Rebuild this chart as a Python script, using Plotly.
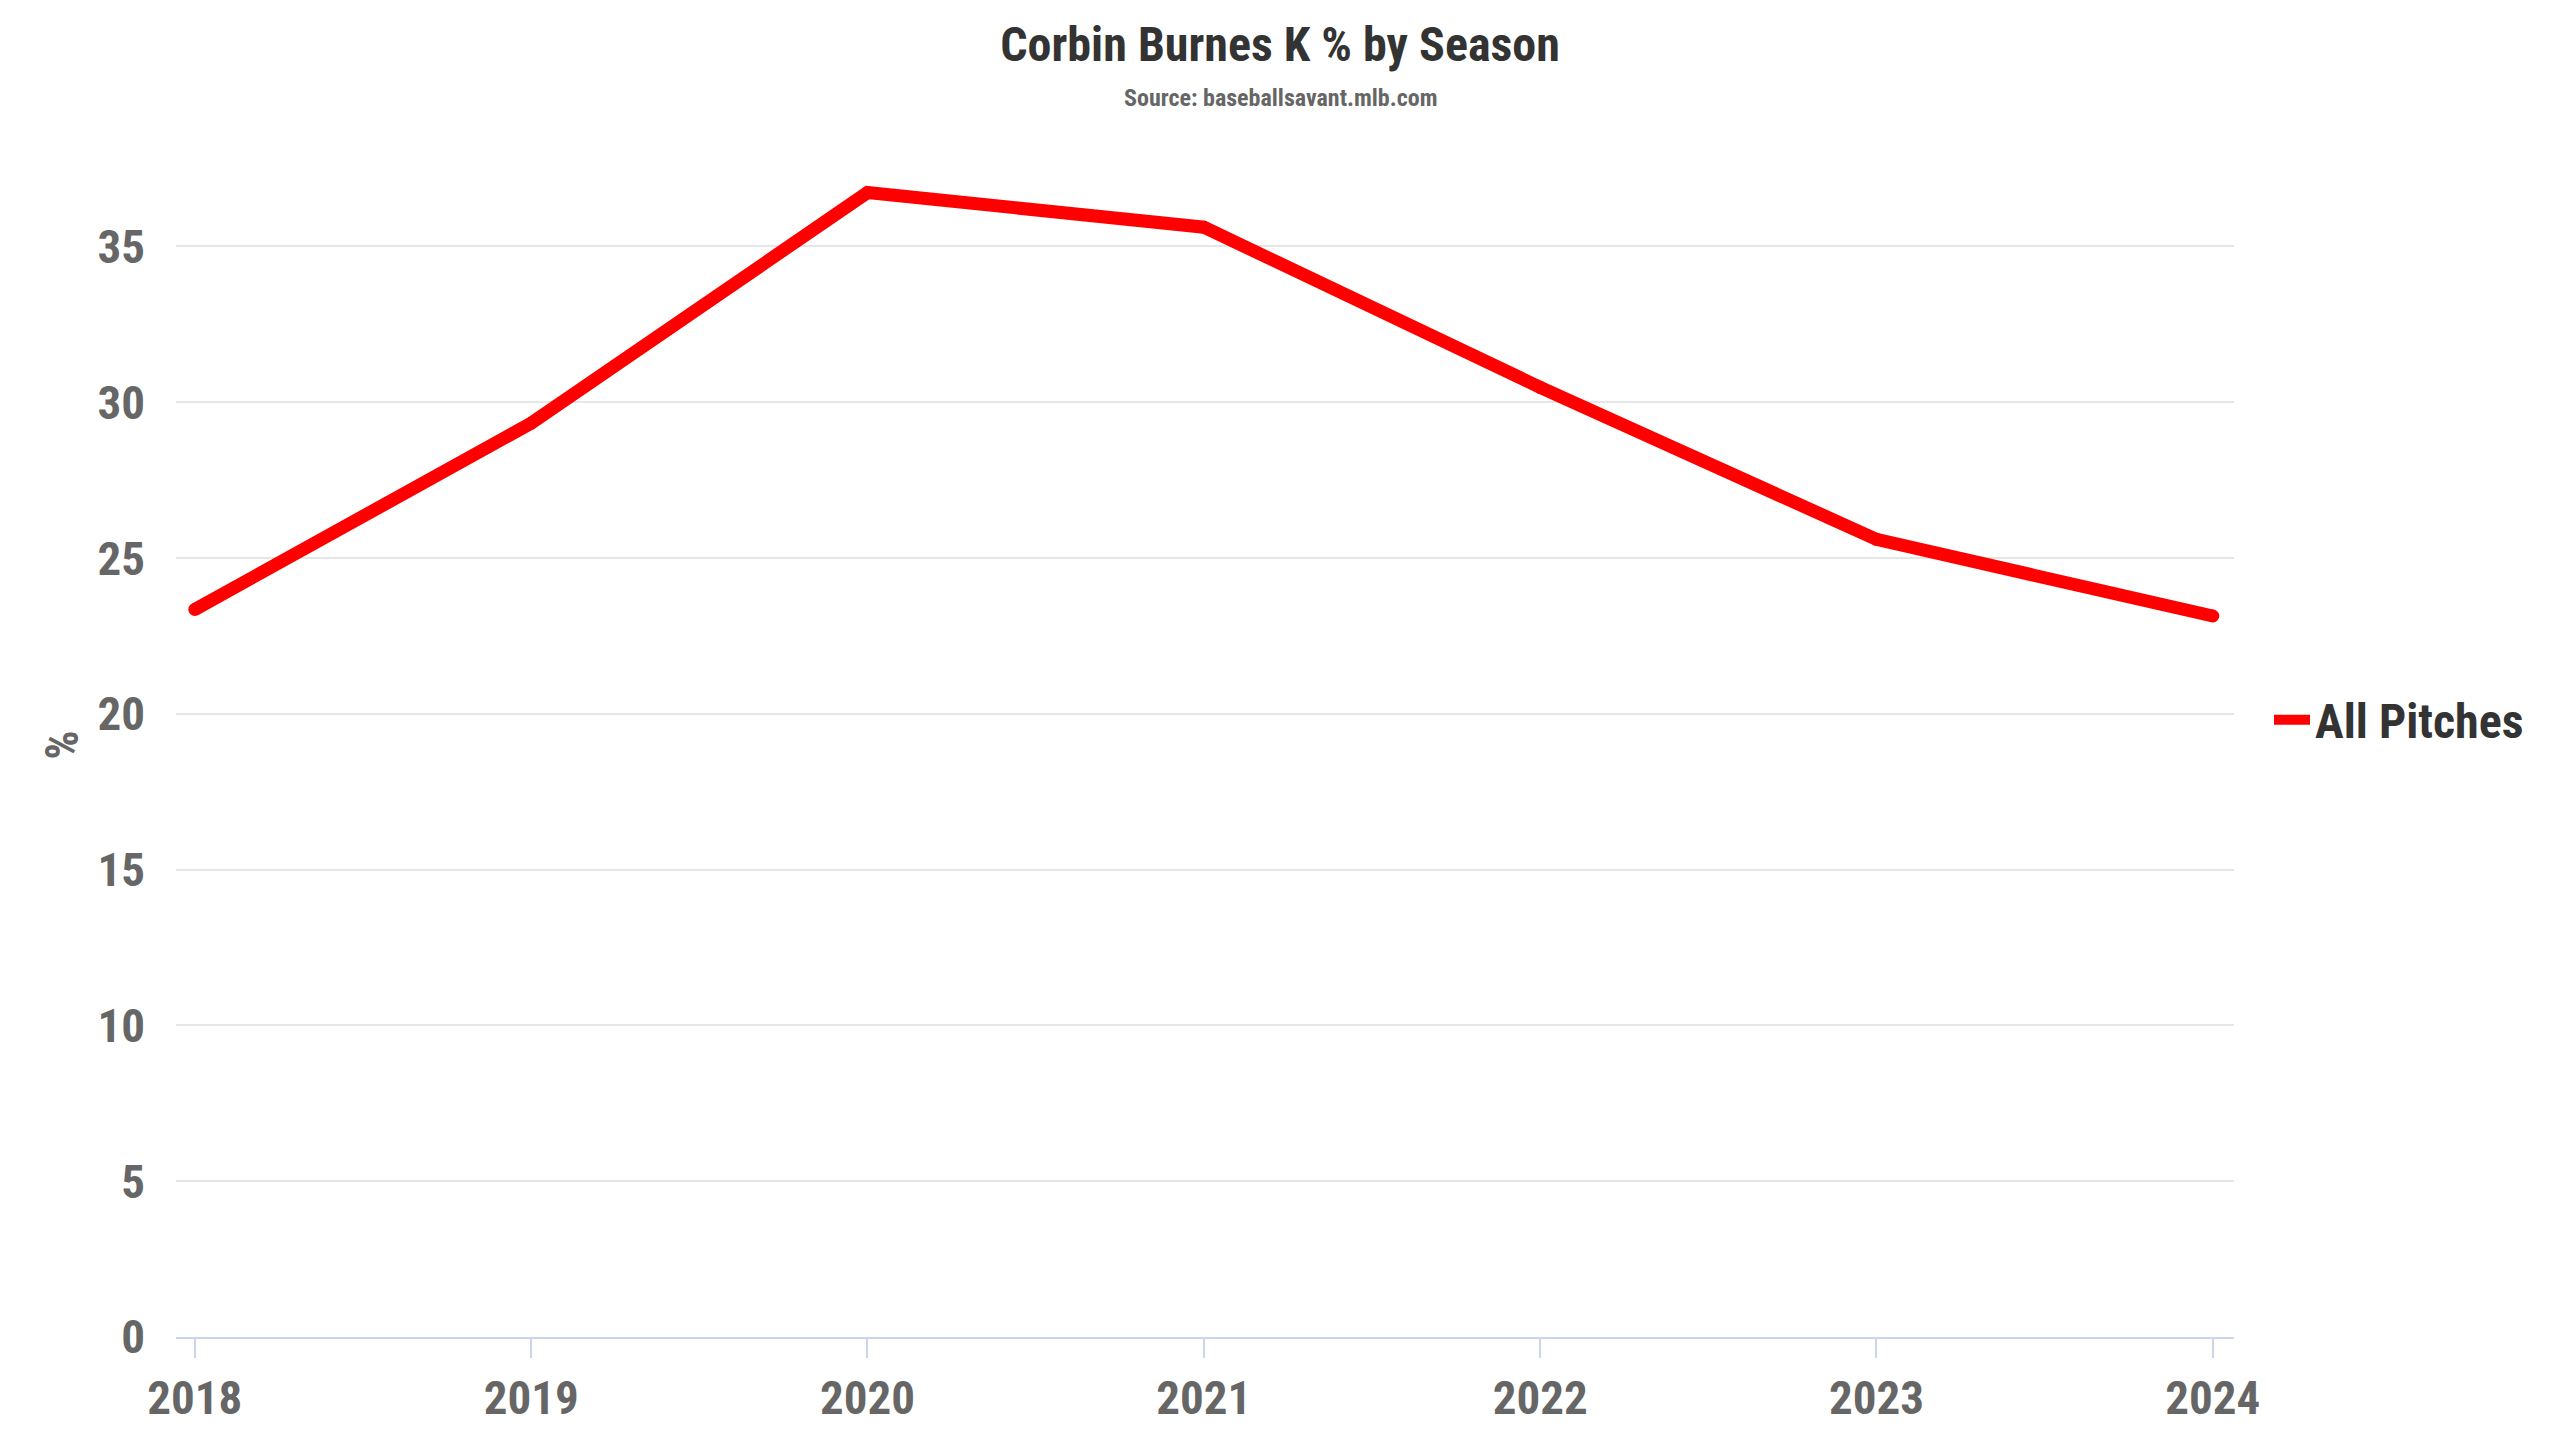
import plotly.graph_objects as go

seasons = [2018, 2019, 2020, 2021, 2022, 2023, 2024]
k_pct = [23.35, 29.33, 36.73, 35.62, 30.48, 25.6, 23.14]
series_name = "All Pitches"
title_text = "Corbin Burnes K % by Season"
subtitle_text = "Source: baseballsavant.mlb.com"
y_ticks = [0, 5, 10, 15, 20, 25, 30, 35]

FONT = "Roboto Condensed, Liberation Sans Narrow, Roboto, sans-serif"

W, H = 2560, 1440
ML = 176
MR = W - 2234
MB = H - 1336.7
MT = 153
PH = H - MT - MB
LINE_W = 13

fig = go.Figure()
fig.add_trace(go.Scatter(
    x=seasons, y=k_pct, mode="lines", name=f"<b>{series_name}</b>",
    line=dict(color="#ff0000", width=LINE_W),
))
# round caps / joins
fig.add_trace(go.Scatter(
    x=seasons, y=k_pct, mode="markers", showlegend=False, hoverinfo="skip",
    marker=dict(color="#ff0000", size=LINE_W, line=dict(width=0)),
))

fig.update_layout(
    width=W, height=H,
    paper_bgcolor="white", plot_bgcolor="white",
    margin=dict(l=ML, r=MR, t=MT, b=MB),
    font=dict(family=FONT, color="#666666"),
    title=dict(
        text=f"<b>{title_text}</b>",
        x=0.5, xanchor="center", xref="container", yref="container",
        y=1 - 44/H, yanchor="middle",
        font=dict(size=48, color="#333333", family=FONT),
    ),
    annotations=[dict(
        text=f"<b>{subtitle_text}</b>", xref="paper", yref="paper",
        x=(1280 - ML)/(W - ML - MR), y=(H - MB - 98)/PH,
        xanchor="center", yanchor="middle",
        showarrow=False, font=dict(size=24, color="#666666", family=FONT),
    )],
    showlegend=True,
    legend=dict(
        xref="container", yref="container",
        x=2269/W, y=1 - 720/H, xanchor="left", yanchor="middle",
        font=dict(size=48, color="#333333", family=FONT),
        bgcolor="rgba(0,0,0,0)", itemwidth=36,
    ),
)

fig.update_xaxes(
    range=[2017.944, 2024.063],
    tickmode="array", tickvals=seasons, ticktext=[f"<b>{s}</b>" for s in seasons],
    showgrid=False, zeroline=False, automargin=False,
    showline=True, linecolor="#ccd6eb", linewidth=2,
    ticks="outside", ticklen=19, tickwidth=2, tickcolor="#ccd6eb",
    tickfont=dict(size=47, color="#666666", family=FONT),
)
fig.update_yaxes(
    range=[0, 38],
    tickmode="array", tickvals=y_ticks, ticktext=[f"<b>{v}</b>" for v in y_ticks],
    showgrid=True, gridcolor="#e6e6e6", gridwidth=2,
    zeroline=False, showline=False, ticks="", automargin=False,
    ticklabelstandoff=30,
    tickfont=dict(size=47, color="#666666", family=FONT),
    title=dict(text="<b>%</b>", font=dict(size=46, color="#666666", family=FONT), standoff=4),
)

fig.write_html("out.html", config={"displayModeBar": False},
               post_script="document.body.style.margin='0';")
